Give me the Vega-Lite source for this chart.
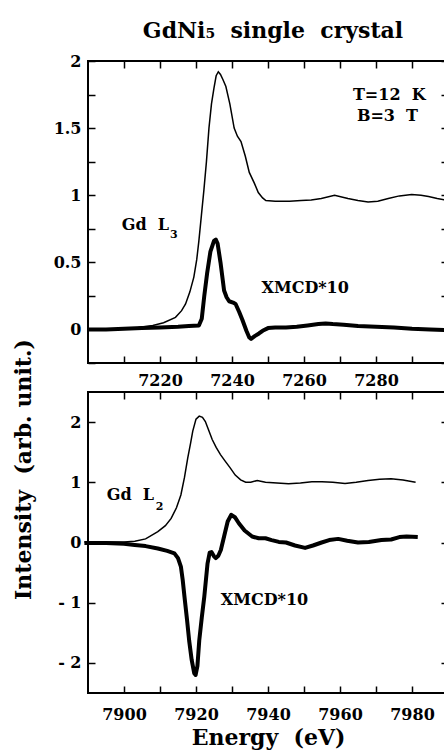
{
  "$schema": "https://vega.github.io/schema/vega-lite/v6.json",
  "background": "white",
  "autosize": {"type": "none"},
  "padding": {"left": 88, "top": 61, "right": 356, "bottom": 690},
  "config": {
    "font": "DejaVu Serif",
    "view": {"stroke": "black", "strokeWidth": 2},
    "axis": {
      "grid": false, "domain": false,
      "labelFont": "DejaVu Serif", "labelFontWeight": "bold", "labelFontSize": 16, "labelColor": "black",
      "tickColor": "black", "tickWidth": 1.5, "tickSize": -7,
      "titleFont": "DejaVu Serif", "titleFontWeight": "bold", "titleFontSize": 22, "titleColor": "black"
    }
  },
  "datasets": {
    "top": [
      {"E":7200,"v":0.0,"s":"abs"},{"E":7205,"v":0.0,"s":"abs"},{"E":7210,"v":0.005,"s":"abs"},{"E":7214,"v":0.015,"s":"abs"},{"E":7218,"v":0.03,"s":"abs"},{"E":7221,"v":0.05,"s":"abs"},{"E":7224.3,"v":0.09,"s":"abs"},{"E":7226,"v":0.14,"s":"abs"},{"E":7227.1,"v":0.19,"s":"abs"},{"E":7228.3,"v":0.28,"s":"abs"},{"E":7229.4,"v":0.39,"s":"abs"},{"E":7230.2,"v":0.52,"s":"abs"},{"E":7230.8,"v":0.66,"s":"abs"},{"E":7231.5,"v":0.85,"s":"abs"},{"E":7232.2,"v":1.04,"s":"abs"},{"E":7232.9,"v":1.25,"s":"abs"},{"E":7233.6,"v":1.5,"s":"abs"},{"E":7234.3,"v":1.68,"s":"abs"},{"E":7235.0,"v":1.8,"s":"abs"},{"E":7235.6,"v":1.89,"s":"abs"},{"E":7236.2,"v":1.92,"s":"abs"},{"E":7236.8,"v":1.9,"s":"abs"},{"E":7237.5,"v":1.86,"s":"abs"},{"E":7238.3,"v":1.81,"s":"abs"},{"E":7239.4,"v":1.68,"s":"abs"},{"E":7240.6,"v":1.5,"s":"abs"},{"E":7241.5,"v":1.44,"s":"abs"},{"E":7242.5,"v":1.4,"s":"abs"},{"E":7243.7,"v":1.29,"s":"abs"},{"E":7244.8,"v":1.17,"s":"abs"},{"E":7246.2,"v":1.09,"s":"abs"},{"E":7247.3,"v":1.02,"s":"abs"},{"E":7248.5,"v":0.98,"s":"abs"},{"E":7249.4,"v":0.96,"s":"abs"},{"E":7252,"v":0.955,"s":"abs"},{"E":7256,"v":0.955,"s":"abs"},{"E":7259.2,"v":0.96,"s":"abs"},{"E":7262,"v":0.965,"s":"abs"},{"E":7264.8,"v":0.975,"s":"abs"},{"E":7268.5,"v":1.0,"s":"abs"},{"E":7272.2,"v":0.975,"s":"abs"},{"E":7275,"v":0.96,"s":"abs"},{"E":7277.8,"v":0.95,"s":"abs"},{"E":7280.5,"v":0.955,"s":"abs"},{"E":7283.4,"v":0.975,"s":"abs"},{"E":7286.5,"v":0.995,"s":"abs"},{"E":7289.9,"v":1.005,"s":"abs"},{"E":7292.5,"v":1.0,"s":"abs"},{"E":7294.6,"v":0.99,"s":"abs"},{"E":7297,"v":0.975,"s":"abs"},{"E":7300,"v":0.96,"s":"abs"},
      {"E":7200,"v":0.0,"s":"xmcd"},{"E":7205,"v":0.0,"s":"xmcd"},{"E":7210,"v":0.005,"s":"xmcd"},{"E":7215,"v":0.01,"s":"xmcd"},{"E":7220,"v":0.015,"s":"xmcd"},{"E":7225,"v":0.02,"s":"xmcd"},{"E":7228,"v":0.025,"s":"xmcd"},{"E":7230.8,"v":0.03,"s":"xmcd"},{"E":7231.6,"v":0.08,"s":"xmcd"},{"E":7232.3,"v":0.25,"s":"xmcd"},{"E":7233.1,"v":0.42,"s":"xmcd"},{"E":7234.0,"v":0.58,"s":"xmcd"},{"E":7235.0,"v":0.66,"s":"xmcd"},{"E":7235.5,"v":0.67,"s":"xmcd"},{"E":7236.0,"v":0.64,"s":"xmcd"},{"E":7236.8,"v":0.5,"s":"xmcd"},{"E":7237.8,"v":0.29,"s":"xmcd"},{"E":7238.5,"v":0.24,"s":"xmcd"},{"E":7239.2,"v":0.21,"s":"xmcd"},{"E":7240.3,"v":0.2,"s":"xmcd"},{"E":7241.0,"v":0.19,"s":"xmcd"},{"E":7242.0,"v":0.13,"s":"xmcd"},{"E":7242.9,"v":0.07,"s":"xmcd"},{"E":7244.0,"v":-0.01,"s":"xmcd"},{"E":7244.8,"v":-0.06,"s":"xmcd"},{"E":7245.3,"v":-0.07,"s":"xmcd"},{"E":7246.3,"v":-0.05,"s":"xmcd"},{"E":7247.5,"v":-0.03,"s":"xmcd"},{"E":7248.5,"v":-0.01,"s":"xmcd"},{"E":7250,"v":0.01,"s":"xmcd"},{"E":7252,"v":0.015,"s":"xmcd"},{"E":7255,"v":0.015,"s":"xmcd"},{"E":7258,"v":0.02,"s":"xmcd"},{"E":7261,"v":0.03,"s":"xmcd"},{"E":7264,"v":0.04,"s":"xmcd"},{"E":7266,"v":0.045,"s":"xmcd"},{"E":7268,"v":0.04,"s":"xmcd"},{"E":7271,"v":0.035,"s":"xmcd"},{"E":7275,"v":0.025,"s":"xmcd"},{"E":7280,"v":0.02,"s":"xmcd"},{"E":7285,"v":0.015,"s":"xmcd"},{"E":7290,"v":0.005,"s":"xmcd"},{"E":7295,"v":0.0,"s":"xmcd"},{"E":7300,"v":-0.005,"s":"xmcd"}
    ],
    "bot": [
      {"E":7889,"v":0.01,"s":"abs"},{"E":7895,"v":0.01,"s":"abs"},{"E":7900,"v":0.01,"s":"abs"},{"E":7903,"v":0.02,"s":"abs"},{"E":7906,"v":0.06,"s":"abs"},{"E":7909.4,"v":0.18,"s":"abs"},{"E":7911.5,"v":0.28,"s":"abs"},{"E":7913.1,"v":0.4,"s":"abs"},{"E":7914.6,"v":0.58,"s":"abs"},{"E":7915.8,"v":0.79,"s":"abs"},{"E":7916.8,"v":1.08,"s":"abs"},{"E":7917.7,"v":1.4,"s":"abs"},{"E":7918.5,"v":1.65,"s":"abs"},{"E":7919.1,"v":1.85,"s":"abs"},{"E":7920.0,"v":2.05,"s":"abs"},{"E":7920.9,"v":2.1,"s":"abs"},{"E":7921.8,"v":2.08,"s":"abs"},{"E":7922.6,"v":2.01,"s":"abs"},{"E":7923.5,"v":1.87,"s":"abs"},{"E":7924.5,"v":1.71,"s":"abs"},{"E":7925.6,"v":1.58,"s":"abs"},{"E":7926.8,"v":1.46,"s":"abs"},{"E":7928.0,"v":1.36,"s":"abs"},{"E":7929.5,"v":1.24,"s":"abs"},{"E":7930.9,"v":1.12,"s":"abs"},{"E":7932.4,"v":1.04,"s":"abs"},{"E":7933.8,"v":1.0,"s":"abs"},{"E":7935.2,"v":1.0,"s":"abs"},{"E":7937.0,"v":1.03,"s":"abs"},{"E":7939.3,"v":1.0,"s":"abs"},{"E":7942.5,"v":0.99,"s":"abs"},{"E":7945.7,"v":0.975,"s":"abs"},{"E":7949,"v":0.99,"s":"abs"},{"E":7952.2,"v":1.01,"s":"abs"},{"E":7955,"v":1.01,"s":"abs"},{"E":7958,"v":1.0,"s":"abs"},{"E":7961.4,"v":0.98,"s":"abs"},{"E":7964.5,"v":1.0,"s":"abs"},{"E":7967.8,"v":1.03,"s":"abs"},{"E":7971,"v":1.05,"s":"abs"},{"E":7974.2,"v":1.06,"s":"abs"},{"E":7977.5,"v":1.04,"s":"abs"},{"E":7981,"v":1.0,"s":"abs"},
      {"E":7889,"v":-0.01,"s":"xmcd"},{"E":7895,"v":-0.01,"s":"xmcd"},{"E":7900,"v":-0.02,"s":"xmcd"},{"E":7903,"v":-0.04,"s":"xmcd"},{"E":7906,"v":-0.06,"s":"xmcd"},{"E":7909.4,"v":-0.1,"s":"xmcd"},{"E":7912,"v":-0.14,"s":"xmcd"},{"E":7914,"v":-0.18,"s":"xmcd"},{"E":7915.0,"v":-0.26,"s":"xmcd"},{"E":7915.8,"v":-0.4,"s":"xmcd"},{"E":7916.3,"v":-0.62,"s":"xmcd"},{"E":7916.8,"v":-0.9,"s":"xmcd"},{"E":7917.5,"v":-1.28,"s":"xmcd"},{"E":7918.1,"v":-1.63,"s":"xmcd"},{"E":7918.8,"v":-1.95,"s":"xmcd"},{"E":7919.5,"v":-2.17,"s":"xmcd"},{"E":7919.9,"v":-2.2,"s":"xmcd"},{"E":7920.4,"v":-2.05,"s":"xmcd"},{"E":7920.9,"v":-1.63,"s":"xmcd"},{"E":7921.6,"v":-1.25,"s":"xmcd"},{"E":7922.3,"v":-0.9,"s":"xmcd"},{"E":7923.2,"v":-0.35,"s":"xmcd"},{"E":7923.8,"v":-0.17,"s":"xmcd"},{"E":7924.3,"v":-0.16,"s":"xmcd"},{"E":7925.0,"v":-0.23,"s":"xmcd"},{"E":7925.5,"v":-0.26,"s":"xmcd"},{"E":7926.2,"v":-0.22,"s":"xmcd"},{"E":7926.9,"v":-0.125,"s":"xmcd"},{"E":7927.8,"v":0.1,"s":"xmcd"},{"E":7928.8,"v":0.35,"s":"xmcd"},{"E":7929.8,"v":0.46,"s":"xmcd"},{"E":7930.8,"v":0.42,"s":"xmcd"},{"E":7931.9,"v":0.32,"s":"xmcd"},{"E":7933.5,"v":0.2,"s":"xmcd"},{"E":7935.6,"v":0.1,"s":"xmcd"},{"E":7937.4,"v":0.07,"s":"xmcd"},{"E":7939.3,"v":0.07,"s":"xmcd"},{"E":7941,"v":0.04,"s":"xmcd"},{"E":7943,"v":0.01,"s":"xmcd"},{"E":7945,"v":0.0,"s":"xmcd"},{"E":7947.5,"v":-0.05,"s":"xmcd"},{"E":7950.3,"v":-0.09,"s":"xmcd"},{"E":7952.5,"v":-0.05,"s":"xmcd"},{"E":7954.9,"v":0.0,"s":"xmcd"},{"E":7957,"v":0.04,"s":"xmcd"},{"E":7959.5,"v":0.06,"s":"xmcd"},{"E":7962,"v":0.03,"s":"xmcd"},{"E":7965,"v":0.0,"s":"xmcd"},{"E":7968,"v":0.01,"s":"xmcd"},{"E":7971.5,"v":0.04,"s":"xmcd"},{"E":7974.2,"v":0.05,"s":"xmcd"},{"E":7976.5,"v":0.09,"s":"xmcd"},{"E":7978.5,"v":0.1,"s":"xmcd"},{"E":7981.6,"v":0.09,"s":"xmcd"}
    ],
    "notesTop": [
      {"E":7273.6,"v":1.71,"t":"T=12 \u00a0K"},
      {"E":7274.7,"v":1.55,"t":"B=3 \u00a0T"},
      {"E":7209.4,"v":0.74,"t":"Gd \u00a0L"},
      {"E":7248.2,"v":0.27,"t":"XMCD*10"}
    ],
    "subsTop": [{"E":7222.8,"v":0.68,"t":"3"}],
    "notesBot": [
      {"E":7895.2,"v":0.71,"t":"Gd \u00a0L"},
      {"E":7926.9,"v":-1.04,"t":"XMCD*10"}
    ],
    "subsBot": [{"E":7908.8,"v":0.54,"t":"2"}]
  },
  "bounds": "flush",
  "spacing": 29,
  "vconcat": [
    {
      "width": 360,
      "height": 302,
      "title": {"text": "GdNi\u2085 \u00a0single \u00a0crystal", "frame": "group", "anchor": "middle", "fontSize": 22, "font": "DejaVu Serif", "fontWeight": "bold", "color": "black", "baseline": "alphabetic", "offset": -7, "dx": 5},
      "layer": [
        {
          "data": {"name": "top"},
          "transform": [{"filter": "datum.s == 'abs'"}],
          "mark": {"type": "line", "color": "black", "strokeWidth": 1.5},
          "encoding": {
            "x": {"field": "E", "type": "quantitative", "scale": {"domain": [7200, 7300], "nice": false, "zero": false},
                  "axis": {"orient": "bottom", "title": null, "values": [7210,7220,7230,7240,7250,7260,7270,7280,7290], "labelExpr": "datum.value % 20 == 0 ? format(datum.value, 'd') : ''", "labelPadding": 16}},
            "y": {"field": "v", "type": "quantitative", "scale": {"domain": [-0.25, 2], "nice": false, "zero": false},
                  "axis": {"orient": "left", "title": null, "values": [-0.25,0,0.25,0.5,0.75,1,1.25,1.5,1.75,2], "labelExpr": "datum.value >= 0 && datum.value % 0.5 == 0 ? format(datum.value, '~g') : ''", "labelPadding": 14}}
          }
        },
        {
          "data": {"name": "top"},
          "transform": [{"filter": "datum.s == 'xmcd'"}],
          "mark": {"type": "line", "color": "black", "strokeWidth": 4, "strokeJoin": "round"},
          "encoding": {
            "x": {"field": "E", "type": "quantitative", "axis": {"orient": "top", "title": null, "labels": false, "values": [7210,7220,7230,7240,7250,7260,7270,7280,7290]}},
            "y": {"field": "v", "type": "quantitative", "axis": {"orient": "right", "title": null, "labels": false, "values": [-0.25,0,0.25,0.5,0.75,1,1.25,1.5,1.75,2]}}
          }
        },
        {
          "data": {"name": "notesTop"},
          "mark": {"type": "text", "align": "left", "baseline": "alphabetic", "font": "DejaVu Serif", "fontWeight": "bold", "fontSize": 16, "color": "black"},
          "encoding": {"x": {"field": "E", "type": "quantitative", "axis": null}, "y": {"field": "v", "type": "quantitative", "axis": null}, "text": {"field": "t"}}
        },
        {
          "data": {"name": "subsTop"},
          "mark": {"type": "text", "align": "left", "baseline": "alphabetic", "font": "DejaVu Serif", "fontWeight": "bold", "fontSize": 11, "color": "black"},
          "encoding": {"x": {"field": "E", "type": "quantitative", "axis": null}, "y": {"field": "v", "type": "quantitative", "axis": null}, "text": {"field": "t"}}
        }
      ]
    },
    {
      "width": 360,
      "height": 301,
      "layer": [
        {
          "data": {"name": "bot"},
          "transform": [{"filter": "datum.s == 'abs'"}],
          "mark": {"type": "line", "color": "black", "strokeWidth": 1.5},
          "encoding": {
            "x": {"field": "E", "type": "quantitative", "scale": {"domain": [7890, 7990], "nice": false, "zero": false},
                  "axis": {"orient": "bottom", "title": "Energy \u00a0(eV)", "titlePadding": 5, "values": [7900,7910,7920,7930,7940,7950,7960,7970,7980], "labelExpr": "(datum.value - 7900) % 20 == 0 ? format(datum.value, 'd') : ''", "labelPadding": 20}},
            "y": {"field": "v", "type": "quantitative", "scale": {"domain": [-2.5, 2.5], "nice": false, "zero": false},
                  "axis": {"orient": "left", "title": "Intensity \u00a0(arb. unit.)", "titleX": -58, "titleY": 77, "titleAngle": -90, "titleAlign": "center", "titleBaseline": "alphabetic", "values": [-2,-1,0,1,2], "labelExpr": "datum.value < 0 ? '- ' + format(-datum.value, 'd') : format(datum.value, 'd')", "labelPadding": 14}}
          }
        },
        {
          "data": {"name": "bot"},
          "transform": [{"filter": "datum.s == 'xmcd'"}],
          "mark": {"type": "line", "color": "black", "strokeWidth": 4, "strokeJoin": "round"},
          "encoding": {
            "x": {"field": "E", "type": "quantitative", "axis": {"orient": "top", "title": null, "labels": false, "values": [7900,7910,7920,7930,7940,7950,7960,7970,7980]}},
            "y": {"field": "v", "type": "quantitative", "axis": {"orient": "right", "title": null, "labels": false, "values": [-2,-1,0,1,2]}}
          }
        },
        {
          "data": {"name": "notesBot"},
          "mark": {"type": "text", "align": "left", "baseline": "alphabetic", "font": "DejaVu Serif", "fontWeight": "bold", "fontSize": 16, "color": "black"},
          "encoding": {"x": {"field": "E", "type": "quantitative", "axis": null}, "y": {"field": "v", "type": "quantitative", "axis": null}, "text": {"field": "t"}}
        },
        {
          "data": {"name": "subsBot"},
          "mark": {"type": "text", "align": "left", "baseline": "alphabetic", "font": "DejaVu Serif", "fontWeight": "bold", "fontSize": 11, "color": "black"},
          "encoding": {"x": {"field": "E", "type": "quantitative", "axis": null}, "y": {"field": "v", "type": "quantitative", "axis": null}, "text": {"field": "t"}}
        }
      ]
    }
  ]
}
